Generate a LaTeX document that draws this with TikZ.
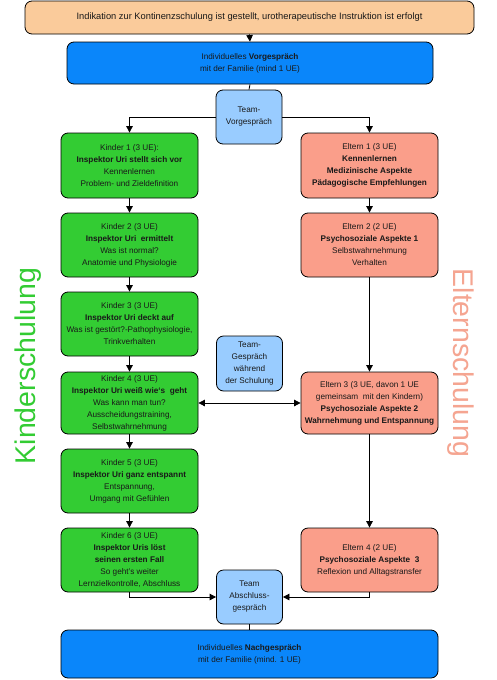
\documentclass[tikz,border=0pt]{standalone}
\usepackage{fontspec}
\setmainfont{Liberation Sans}
\usetikzlibrary{arrows.meta}
\definecolor{peach}{RGB}{250,203,155}
\definecolor{bigblue}{RGB}{10,134,250}
\definecolor{teamblue}{RGB}{153,204,255}
\definecolor{kgreen}{RGB}{51,204,51}
\definecolor{esalmon}{RGB}{250,158,138}
\definecolor{klabel}{RGB}{51,204,51}
\definecolor{elabel}{RGB}{245,165,145}
\begin{document}
\begin{tikzpicture}[x=1pt,y=-1pt,
  box/.style={draw=black,line width=0.8pt,rounded corners=7pt,inner sep=0pt,align=center,
    font=\fontsize{8.2}{12}\selectfont,text=black!90},
  kbox/.style={box,fill=kgreen,minimum width=137pt,minimum height=64pt},
  ebox/.style={box,fill=esalmon,minimum width=137pt,minimum height=64pt},
  tbox/.style={box,fill=teamblue,minimum width=66pt,minimum height=54pt},
  bbox/.style={box,fill=bigblue},
  conn/.style={draw=black,line width=0.8pt},
  arr/.style={conn,-{Triangle[length=6.5pt,width=6.5pt]}},
  darr/.style={conn,{Triangle[length=6.5pt,width=6.5pt]}-{Triangle[length=6.5pt,width=6.5pt]}},
  side/.style={font=\fontsize{28.5}{30}\selectfont,inner sep=0pt}
]
\useasboundingbox[fill=white] (0,0) rectangle (497,680);

\node[box,fill=peach,minimum width=449pt,minimum height=33pt,font=\fontsize{9.3}{12}\selectfont] (top) at (249.5,17.5)
  {Indikation zur Kontinenzschulung ist gestellt, urotherapeutische Instruktion ist erfolgt};
\node[bbox,minimum width=366pt,minimum height=42pt] (vor) at (250,63)
  {Individuelles \textbf{Vorgespräch}\\mit der Familie (mind 1 UE)};
\node[tbox] (team1) at (249,117) {Team-\\Vorgespräch};

\node[kbox,minimum height=65pt] (k1) at (129.5,165.5)
  {Kinder 1 (3 UE):\\\textbf{Inspektor Uri stellt sich vor}\\Kennenlernen\\Problem- und Zieldefinition};
\node[ebox,minimum height=65pt] (e1) at (369.5,165.5)
  {Eltern 1 (3 UE)\\\textbf{Kennenlernen}\\\textbf{Medizinische Aspekte}\\\textbf{Pädagogische Empfehlungen}};

\node[kbox] (k2) at (129.5,245)
  {Kinder 2 (3 UE)\\\textbf{Inspektor Uri\ \ ermittelt}\\Was ist normal?\\Anatomie und Physiologie};
\node[ebox] (e2) at (369.5,245)
  {Eltern 2 (2 UE)\\\textbf{Psychosoziale Aspekte 1}\\Selbstwahrnehmung\\Verhalten};

\node[kbox] (k3) at (129.5,324)
  {Kinder 3 (3 UE)\\\textbf{Inspektor Uri deckt auf}\\Was ist gestört?-Pathophysiologie,\\Trinkverhalten};

\node[tbox,minimum height=55pt] (team2) at (249.5,363.5) {Team-\\Gespräch\\während\\der Schulung};

\node[kbox,minimum height=62pt] (k4) at (129.5,403)
  {Kinder 4 (3 UE)\\\textbf{Inspektor Uri weiß wie‘s\ \ geht}\\Was kann man tun?\\Ausscheidungstraining,\\Selbstwahrnehmung};
\node[ebox,minimum height=62pt] (e3) at (369.5,403)
  {Eltern 3 (3 UE, davon 1 UE\\gemeinsam\ \ mit den Kindern)\\\textbf{Psychosoziale Aspekte 2}\\\textbf{Wahrnehmung und Entspannung}};

\node[kbox] (k5) at (129.5,481)
  {Kinder 5 (3 UE)\\\textbf{Inspektor Uri ganz entspannt}\\Entspannung,\\Umgang mit Gefühlen};

\node[kbox] (k6) at (129.5,560)
  {Kinder 6 (3 UE)\\\textbf{Inspektor Uris löst}\\\textbf{seinen ersten Fall}\\So geht's weiter\\Lernzielkontrolle, Abschluss};
\node[ebox] (e4) at (369.5,560)
  {Eltern 4 (2 UE)\\\textbf{Psychosoziale Aspekte\ \ 3}\\Reflexion und Alltagstransfer};

\node[tbox] (team3) at (249.5,597) {Team\\Abschluss-\\gespräch};

\node[bbox,minimum width=377pt,minimum height=48pt] (nach) at (249.5,654)
  {Individuelles \textbf{Nachgespräch}\\mit der Familie (mind. 1 UE)};

\node[side,text=klabel,rotate=90] (klab) at (28,366) {Kinderschulung};
\node[side,text=elabel,rotate=-90] (elab) at (461,363) {Elternschulung};

% connectors
\draw[arr] (top.south) -- (vor.north);
\draw[conn] (vor.south) -- (team1.north);
\draw[arr] (team1.west) -| (k1.north);
\draw[arr] (team1.east) -| (e1.north);
\draw[arr] (k1) -- (k2);
\draw[arr] (k2) -- (k3);
\draw[arr] (k3) -- (k4);
\draw[arr] (k4) -- (k5);
\draw[arr] (k5) -- (k6);
\draw[arr] (e1) -- (e2);
\draw[arr] (e2) -- (e3);
\draw[arr] (e3) -- (e4);
\draw[darr] (k4.east) -- (e3.west);
\draw[arr] (k6.south) |- (team3.west);
\draw[arr] (e4.south) |- (team3.east);
\draw[conn] (team3.south) -- (nach.north);
\end{tikzpicture}
\end{document}
